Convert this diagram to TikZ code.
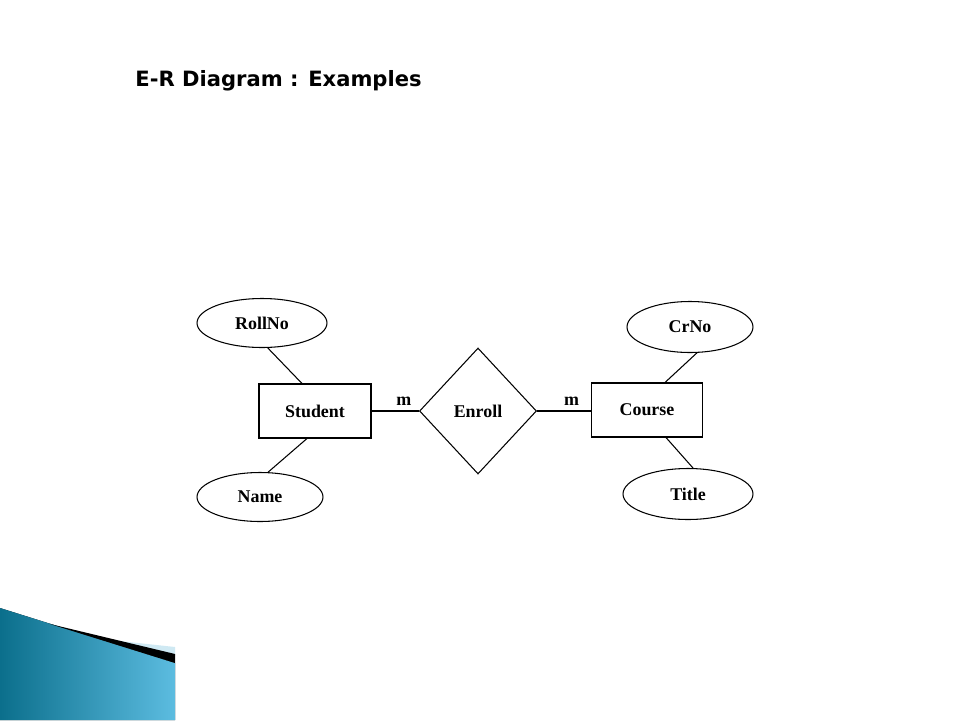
\documentclass[tikz,border=0pt]{standalone}
\usepackage{fontspec}
\setmainfont{Liberation Serif}
\newfontfamily\headfont{DejaVu Sans}
\usepackage{xcolor}
\usepackage{tikz}
\usetikzlibrary{shapes.geometric,calc}

\definecolor{teal1}{HTML}{0B6F8C}
\definecolor{teal2}{HTML}{5CBCE0}
\definecolor{edgeblue}{HTML}{CFE9F3}

\begin{document}
\begin{tikzpicture}[
  x=0.02cm, y=-0.02cm,
  font=\fontsize{10.2}{12}\selectfont\bfseries,
  entity/.style  ={draw, line width=0.6pt, inner sep=0pt,
                   minimum width=2.24cm, minimum height=1.08cm},
  attr/.style    ={draw, ellipse, line width=0.6pt, inner sep=0pt,
                   minimum width=2.6cm, minimum height=0.98cm},
  rel/.style     ={draw, diamond, aspect=0.93, line width=0.6pt, inner sep=0pt,
                   minimum width=2.34cm, minimum height=2.52cm},
  link/.style    ={line width=0.6pt},
  card/.style    ={above, inner sep=2pt, yshift=1pt},
]
\useasboundingbox[fill=white] (0,0) rectangle (960,720);

% ---------------- slide heading -------------------------------------------
\node[anchor=base west, inner sep=0pt,
      font=\headfont\fontsize{12}{14}\selectfont\bfseries] (title) at (135,86)
  {E-R Diagram : Examples};

% ---------------- entities and relationship -------------------------------
\node[entity] (student) at (315,411) {Student};
\node[rel]    (enroll)  at (478,411) {Enroll};
\node[entity, minimum width=2.22cm] (course) at (647,410) {Course};

\draw[link] (student.east) -- node[card, pos=0.68]{m} (enroll.west);
\draw[link] (enroll.east)  -- node[card, pos=0.64]{m} (course.west |- enroll.east);

% ---------------- attributes ----------------------------------------------
\node[attr] (rollno) at (262,323) {RollNo};
\node[attr, minimum width=2.52cm] (name)  at (260,497) {Name};
\node[attr, minimum width=2.52cm, minimum height=1.02cm] (crno) at (690,327) {CrNo};
\node[attr, minimum height=1.02cm] (ttl) at (688,494) {Title};

\draw[link] (rollno.-77) -- ($(student.north)+(-13,0)$);
\draw[link] (name.72)    -- ($(student.south)+(-8,0)$);
\draw[link] (crno.-75)   -- ($(course.north)+(18,0)$);
\draw[link] (ttl.79)     -- ($(course.south)+(19,0)$);

% ---------------- corner decoration ---------------------------------------
\fill[left color=teal1, right color=teal2]
  (0,608) -- (175,663) -- (175,720) -- (0,720) -- cycle;
\fill[edgeblue] (110,640) -- (175,647) -- (175,656) -- cycle;
\fill[black] (50,624) -- (175,654) -- (175,663) -- cycle;

\end{tikzpicture}
\end{document}
